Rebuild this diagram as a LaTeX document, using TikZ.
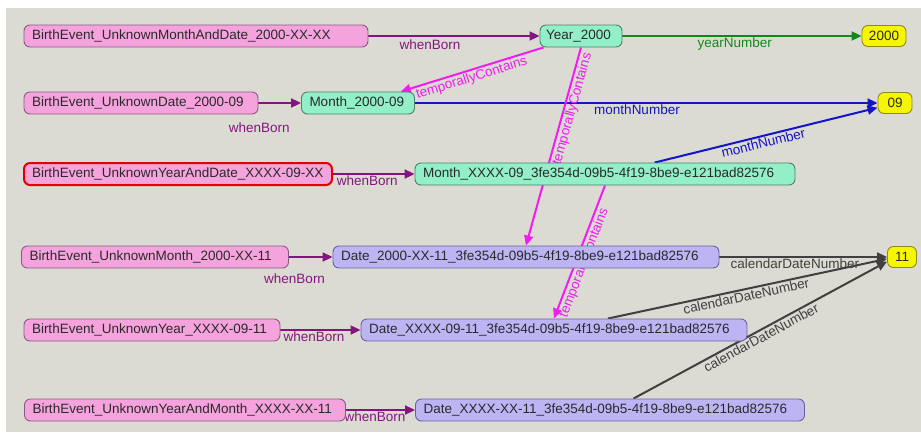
\documentclass[tikz,border=0pt]{standalone}
\usepackage{fontspec}
\setmainfont{Liberation Sans}
\usetikzlibrary{arrows.meta}
\definecolor{bgc}{HTML}{DCDBD3}
\definecolor{txt}{HTML}{2A2A2A}
\definecolor{evfill}{HTML}{F5A3DD}
\definecolor{evline}{HTML}{8A5A80}
\definecolor{timefill}{HTML}{92EFC8}
\definecolor{timeline}{HTML}{4F8070}
\definecolor{datefill}{HTML}{BDB4F4}
\definecolor{dateline}{HTML}{6A62A0}
\definecolor{litfill}{HTML}{F6F600}
\definecolor{litline}{HTML}{8C8A20}
\definecolor{bornc}{HTML}{84157F}
\definecolor{containc}{HTML}{F01CF0}
\definecolor{yearc}{HTML}{12881A}
\definecolor{monthc}{HTML}{1414C8}
\definecolor{dayc}{HTML}{404040}
\pgfdeclarelayer{bgl}
\pgfdeclarelayer{edgel}
\pgfsetlayers{bgl,edgel,main}

\begin{document}
\begin{tikzpicture}[x=1pt,y=-1pt,font=\fontsize{13.5}{16}\selectfont,
	box/.style={draw,rounded corners=6pt,minimum height=22pt,inner xsep=8pt,inner ysep=2pt,align=left,text=txt,line width=0.9pt,
		execute at begin node=\hbox\bgroup, execute at end node=\egroup},
	ev/.style={box,fill=evfill,draw=evline},
	timebox/.style={box,fill=timefill,draw=timeline},
	datebox/.style={box,fill=datefill,draw=dateline},
	lit/.style={draw,rounded corners=6pt,text=txt,line width=0.9pt,inner sep=2pt,fill=litfill,draw=litline,minimum height=21pt},
	rel/.style={line width=2pt,-{Triangle[length=10pt,width=9pt]}},
	born/.style={rel,draw=bornc},
	contain/.style={rel,draw=containc},
	yearrel/.style={rel,draw=yearc},
	monthrel/.style={rel,draw=monthc},
	dayrel/.style={rel,draw=dayc},
	lab/.style={inner sep=1pt}]

	\useasboundingbox (0,0) rectangle (921,432);
	\begin{pgfonlayer}{bgl}
		\fill[white] (0,0) rectangle (921,432);
		\fill[bgc] (6,8) rectangle (921,432);
	\end{pgfonlayer}

	\node[ev, text width=328pt] (ev1) at (196,36) {BirthEvent\_UnknownMonthAndDate\_2000-XX-XX};
	\node[timebox, inner xsep=6pt, text width=70pt] (year) at (581,36) {Year\_2000};
	\node[lit, minimum width=44pt] (n2000) at (884,36) {2000};

	\node[ev, text width=218pt] (ev2) at (141,103) {BirthEvent\_UnknownDate\_2000-09};
	\node[timebox, text width=97pt] (month1) at (358,103) {Month\_2000-09};
	\node[lit, minimum width=34pt] (n09) at (895,103) {09};

	\node[ev, text width=292pt, draw=red!90!black, line width=2pt] (ev3) at (178,174) {BirthEvent\_UnknownYearAndDate\_XXXX-09-XX};
	\node[timebox, text width=364pt] (month2) at (605,174) {Month\_XXXX-09\_3fe354d-09b5-4f19-8be9-e121bad82576};

	\node[ev, text width=251pt] (ev4) at (155,257) {BirthEvent\_UnknownMonth\_2000-XX-11};
	\node[datebox, text width=370pt] (date1) at (526,257) {Date\_2000-XX-11\_3fe354d-09b5-4f19-8be9-e121bad82576};
	\node[lit, minimum width=29pt] (n11) at (902,257) {11};

	\node[ev, text width=240pt] (ev5) at (152,330) {BirthEvent\_UnknownYear\_XXXX-09-11};
	\node[datebox, text width=370pt] (date2) at (554,330) {Date\_XXXX-09-11\_3fe354d-09b5-4f19-8be9-e121bad82576};

	\node[ev, text width=305pt] (ev6) at (185,410) {BirthEvent\_UnknownYearAndMonth\_XXXX-XX-11};
	\node[datebox, text width=373pt] (date3) at (610,410) {Date\_XXXX-XX-11\_3fe354d-09b5-4f19-8be9-e121bad82576};

	\begin{pgfonlayer}{edgel}
		\draw[born] (ev1) -- (year) node[lab, pos=0.36, below=2pt, text=bornc] {whenBorn};
		\draw[born] (ev2) -- (month1) node[lab, pos=0.02, below=18pt, text=bornc] {whenBorn};
		\draw[born] (ev3) -- (month2) node[lab, pos=0.42, below, text=bornc] {whenBorn};
		\draw[born] (ev4) -- (date1) node[lab, pos=0.13, below=15pt, text=bornc] {whenBorn};
		\draw[born] (ev5) -- (date2) node[lab, pos=0.42, below, text=bornc] {whenBorn};
		\draw[born] (ev6) -- (date3) node[lab, pos=0.42, below, text=bornc] {whenBorn};

		\draw[yearrel] (year) -- (n2000) node[lab, pos=0.47, below, text=yearc] {yearNumber};
		\draw[monthrel] (month1) -- (n09) node[lab, pos=0.48, below, text=monthc] {monthNumber};
		\draw[monthrel] (month2.13.5) -- (n09.195) node[lab, pos=0.48, below, sloped, text=monthc] {monthNumber};
		\draw[dayrel] (date1) -- (n11) node[lab, pos=0.45, below, text=dayc] {calendarDateNumber};
		\draw[dayrel] (date2.12) -- (n11.187) node[lab, pos=0.49, below, sloped, text=dayc] {calendarDateNumber};
		\draw[dayrel] (date3.26) -- (n11.197) node[lab, pos=0.49, below, sloped, text=dayc] {calendarDateNumber};

		\draw[contain] (year.197) -- (month1.15) node[lab, pos=0.52, below, sloped, text=containc] {temporallyContains};
		\draw[contain] (year.south) -- (date1.north) node[lab, pos=0.3, below, sloped, text=containc] {temporallyContains};
		\draw[contain] (month2.south) -- (date2.north) node[lab, pos=0.56, below, sloped, text=containc] {temporallyContains};
	\end{pgfonlayer}

\end{tikzpicture}
\end{document}
